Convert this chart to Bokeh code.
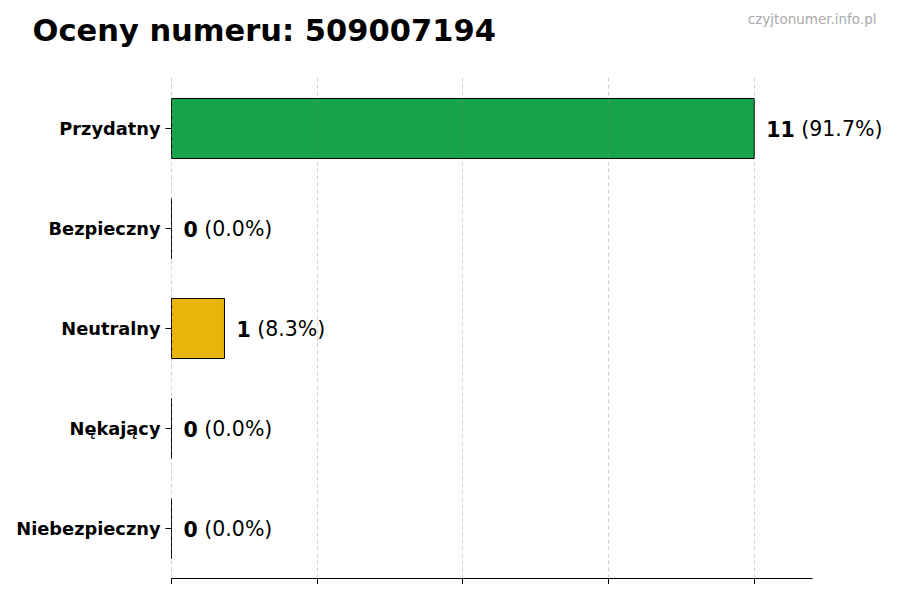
import math
from bokeh.plotting import figure
from bokeh.models import ColumnDataSource, Range1d, FixedTicker, Label
from bokeh.core.properties import value
from bokeh.embed import file_html
from bokeh.resources import INLINE

# data
categories = ["Przydatny", "Bezpieczny", "Neutralny", "Nękający", "Niebezpieczny"]
counts = [11, 0, 1, 0, 0]
colors = ["#17a44a", "#4ade80", "#e9b50b", "#f97316", "#dc2626"]
title_text = "Oceny numeru: 509007194"
watermark = "czyjtonumer.info.pl"

FONT = "DejaVu Sans"
VAL_FS = 20.5  # px, value labels
W, H = 884, 584

n = len(categories)
ypos = list(range(n - 1, -1, -1))  # first category on top
total = sum(counts)
pct = ["(%.1f%%)" % (100.0 * c / total) for c in counts]
num = [str(c) for c in counts]
# second label starts after bold number + a space (DejaVu Sans Bold digit ~0.696em)
pct_off = [12 + len(s) * 0.696 * VAL_FS + 0.318 * VAL_FS for s in num]

source = ColumnDataSource(data=dict(y=ypos, cat=categories, count=counts, color=colors,
                                    num=num, pct=pct, pct_off=pct_off))

# frame spans the whole canvas width and height (except the x axis strip),
# so the title, category names and value labels are not clipped
xmax = max(counts) * 1.1
left_px, axis_end_px = 171, 812
px_x = (axis_end_px - left_px) / xmax
frame_h = H - 6
px_y = 100.0
y0 = -0.5
p = figure(width=W, height=H, output_backend="svg", toolbar_location=None,
           x_range=Range1d(-left_px / px_x, (W - left_px) / px_x),
           y_range=Range1d(y0, y0 + frame_h / px_y),
           y_axis_location=None, min_border=0, min_border_bottom=6)
p.outline_line_color = None

p.hbar(y="y", left=0, right="count", height=0.6, source=source,
       fill_color="color", line_color="black", line_width=1)

# grid: vertical dashed lines only, drawn over the bars
p.ygrid.visible = False
p.xgrid.grid_line_color = "gray"
p.xgrid.grid_line_alpha = 0.35
p.xgrid.grid_line_dash = "4 3"
p.xgrid.level = "overlay"
p.xgrid.cross_bounds = (y0, n - 1 + 0.53)

xticks = [max(counts) * i / 4 for i in range(5)]
p.xaxis.ticker = FixedTicker(ticks=xticks)
p.xaxis.bounds = (0, xmax)
p.xaxis.major_label_overrides = {t: "" for t in xticks}  # ticks without labels
p.xaxis.major_label_text_font_size = "1px"
p.xaxis.major_label_standoff = 0
p.xaxis.axis_line_color = "black"
p.xaxis.major_tick_line_color = "black"
p.xaxis.major_tick_in = 0
p.xaxis.major_tick_out = 6
p.xaxis.minor_tick_line_color = None

# category axis: outward ticks + bold names
p.ray(x=0, y="y", source=source, length=6, length_units="screen", angle=math.pi,
      line_color="black", line_width=1)
p.text(x=0, y="y", text="cat", source=source, x_offset=-11, text_align="right",
       text_baseline="middle", text_font=value(FONT), text_font_style="bold",
       text_font_size="17.8px", text_color="black")

# value labels: bold count, then the share in regular weight
p.text(x="count", y="y", text="num", source=source, x_offset=12,
       text_baseline="middle", text_font=value(FONT), text_font_style="bold",
       text_font_size="%spx" % VAL_FS, text_color="black")
p.text(x="count", y="y", text="pct", source=source, x_offset="pct_off",
       text_baseline="middle", text_font=value(FONT), text_font_style="normal",
       text_font_size="%spx" % VAL_FS, text_color="black")

# title and watermark (screen units, measured from the frame's bottom-left)
p.add_layout(Label(x=32, y=frame_h - 29.5, x_units="screen", y_units="screen",
                   text=title_text, text_font=FONT, text_font_style="bold",
                   text_font_size="30.5px", text_color="black", text_baseline="alphabetic"))
p.add_layout(Label(x=876, y=frame_h - 18.5, x_units="screen", y_units="screen",
                   text=watermark, text_font=FONT, text_font_size="13.5px",
                   text_color="#aaaaaa", text_align="right", text_baseline="alphabetic"))

open("out.html", "w").write(file_html(p, INLINE))
